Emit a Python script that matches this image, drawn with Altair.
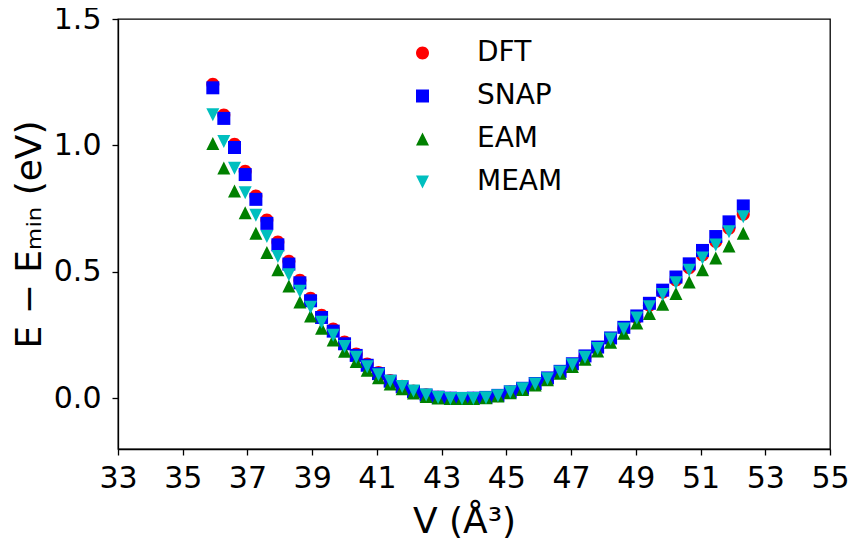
import altair as alt
import pandas as pd

# Volumes (Å^3)
V = [35.93, 36.27, 36.60, 36.93, 37.26, 37.60, 37.94, 38.28, 38.62, 38.95,
     39.29, 39.65, 40.00, 40.36, 40.70, 41.05, 41.41, 41.78, 42.13, 42.52,
     42.89, 43.27, 43.63, 43.98, 44.37, 44.74, 45.12, 45.50, 45.89, 46.27,
     46.66, 47.04, 47.43, 47.82, 48.22, 48.63, 49.03, 49.42, 49.83, 50.24,
     50.65, 51.06, 51.47, 51.88, 52.32]

DFT = [1.242, 1.120, 1.005, 0.898, 0.800, 0.705, 0.618, 0.542, 0.467, 0.396,
       0.329, 0.274, 0.223, 0.176, 0.136, 0.102, 0.071, 0.048, 0.029, 0.014,
       0.005, 0.001, 0.000, 0.001, 0.004, 0.011, 0.025, 0.039, 0.058, 0.079,
       0.105, 0.134, 0.165, 0.199, 0.236, 0.276, 0.320, 0.368, 0.420, 0.468,
       0.517, 0.567, 0.620, 0.673, 0.728]

SNAP = [1.228, 1.107, 0.992, 0.885, 0.787, 0.692, 0.607, 0.531, 0.457, 0.386,
        0.320, 0.266, 0.216, 0.170, 0.131, 0.098, 0.068, 0.046, 0.027, 0.013,
        0.005, 0.001, 0.000, 0.001, 0.004, 0.012, 0.026, 0.040, 0.059, 0.081,
        0.107, 0.137, 0.168, 0.203, 0.239, 0.281, 0.326, 0.376, 0.428, 0.480,
        0.532, 0.585, 0.640, 0.698, 0.761]

EAM = [1.008, 0.911, 0.820, 0.734, 0.653, 0.577, 0.509, 0.444, 0.381, 0.326,
       0.277, 0.231, 0.186, 0.146, 0.111, 0.082, 0.057, 0.038, 0.021, 0.008,
       0.002, 0.000, 0.000, 0.000, 0.003, 0.010, 0.022, 0.035, 0.053, 0.074,
       0.099, 0.126, 0.155, 0.187, 0.222, 0.258, 0.298, 0.336, 0.372, 0.415,
       0.460, 0.509, 0.555, 0.603, 0.653]

MEAM = [1.121, 1.016, 0.910, 0.813, 0.724, 0.640, 0.561, 0.489, 0.424, 0.360,
        0.301, 0.250, 0.205, 0.163, 0.125, 0.094, 0.068, 0.047, 0.029, 0.013,
        0.004, 0.000, 0.000, 0.000, 0.003, 0.011, 0.025, 0.038, 0.057, 0.078,
        0.104, 0.133, 0.163, 0.197, 0.235, 0.274, 0.318, 0.362, 0.411, 0.457,
        0.507, 0.555, 0.607, 0.659, 0.718]

SERIES = ["DFT", "SNAP", "EAM", "MEAM"]
COLORS = ["#ff0000", "#0000ff", "#008000", "#00bfbf"]
SHAPES = [
    "M-1,0A1,1,0,1,1,1,0A1,1,0,1,1,-1,0Z",
    "square",
    "M0,-1L1,1L-1,1Z",
    "M-1,-1L1,-1L0,1Z",
]
X_TICKS = list(range(33, 56, 2))
Y_TICKS = [0.0, 0.5, 1.0, 1.5]

rows = []
for name, vals in zip(SERIES, [DFT, SNAP, EAM, MEAM]):
    for v, e in zip(V, vals):
        rows.append({"V": v, "E": e, "series": name})
df = pd.DataFrame(rows)

FONT = "DejaVu Sans"

legend = alt.Legend(
    title=None, orient="none", legendX=290.5, legendY=20,
    labelFontSize=28, labelFont=FONT, labelColor="black",
    symbolSize=169, rowPadding=15, labelOffset=40.5, padding=0,
    symbolStrokeWidth=0, symbolOpacity=1,
)

chart = alt.Chart(df).mark_point(filled=True, size=169, opacity=1, strokeWidth=0).encode(
    x=alt.X("V:Q",
            scale=alt.Scale(domain=[33, 55], nice=False, zero=False),
            axis=alt.Axis(values=X_TICKS, title="V (Å³)", labelPadding=8,
                          labelFlush=False, labelOverlap=False,
                          titleX=346, titleY=83, titleBaseline="alphabetic",
                          titleAlign="center")),
    y=alt.Y("E:Q",
            scale=alt.Scale(domain=[-0.2, 1.5], nice=False, zero=False),
            axis=alt.Axis(values=Y_TICKS, format=".1f", title="E − Eₘᵢₙ (eV)",
                          labelPadding=11, labelFlush=False, labelOverlap=False,
                          titleX=-78, titleY=215,
                          titleAngle=270, titleBaseline="alphabetic",
                          titleAlign="center")),
    color=alt.Color("series:N", scale=alt.Scale(domain=SERIES, range=COLORS), legend=legend),
    shape=alt.Shape("series:N", scale=alt.Scale(domain=SERIES, range=SHAPES), legend=legend),
).properties(
    width=712, height=430,
    autosize=alt.AutoSizeParams(type="none"),
    padding={"left": 110, "top": 11, "right": 19, "bottom": 90},
).configure_axis(
    grid=False, labelFont=FONT, titleFont=FONT, labelFontSize=30, titleFontSize=36,
    titleFontWeight="normal", labelColor="black", titleColor="black",
    domainColor="black", tickColor="black", tickSize=6, tickWidth=1.3, domainWidth=1.3,
).configure_view(stroke="black", strokeWidth=1.3)

chart.save("out.html", embed_options={"renderer": "svg", "actions": False})
